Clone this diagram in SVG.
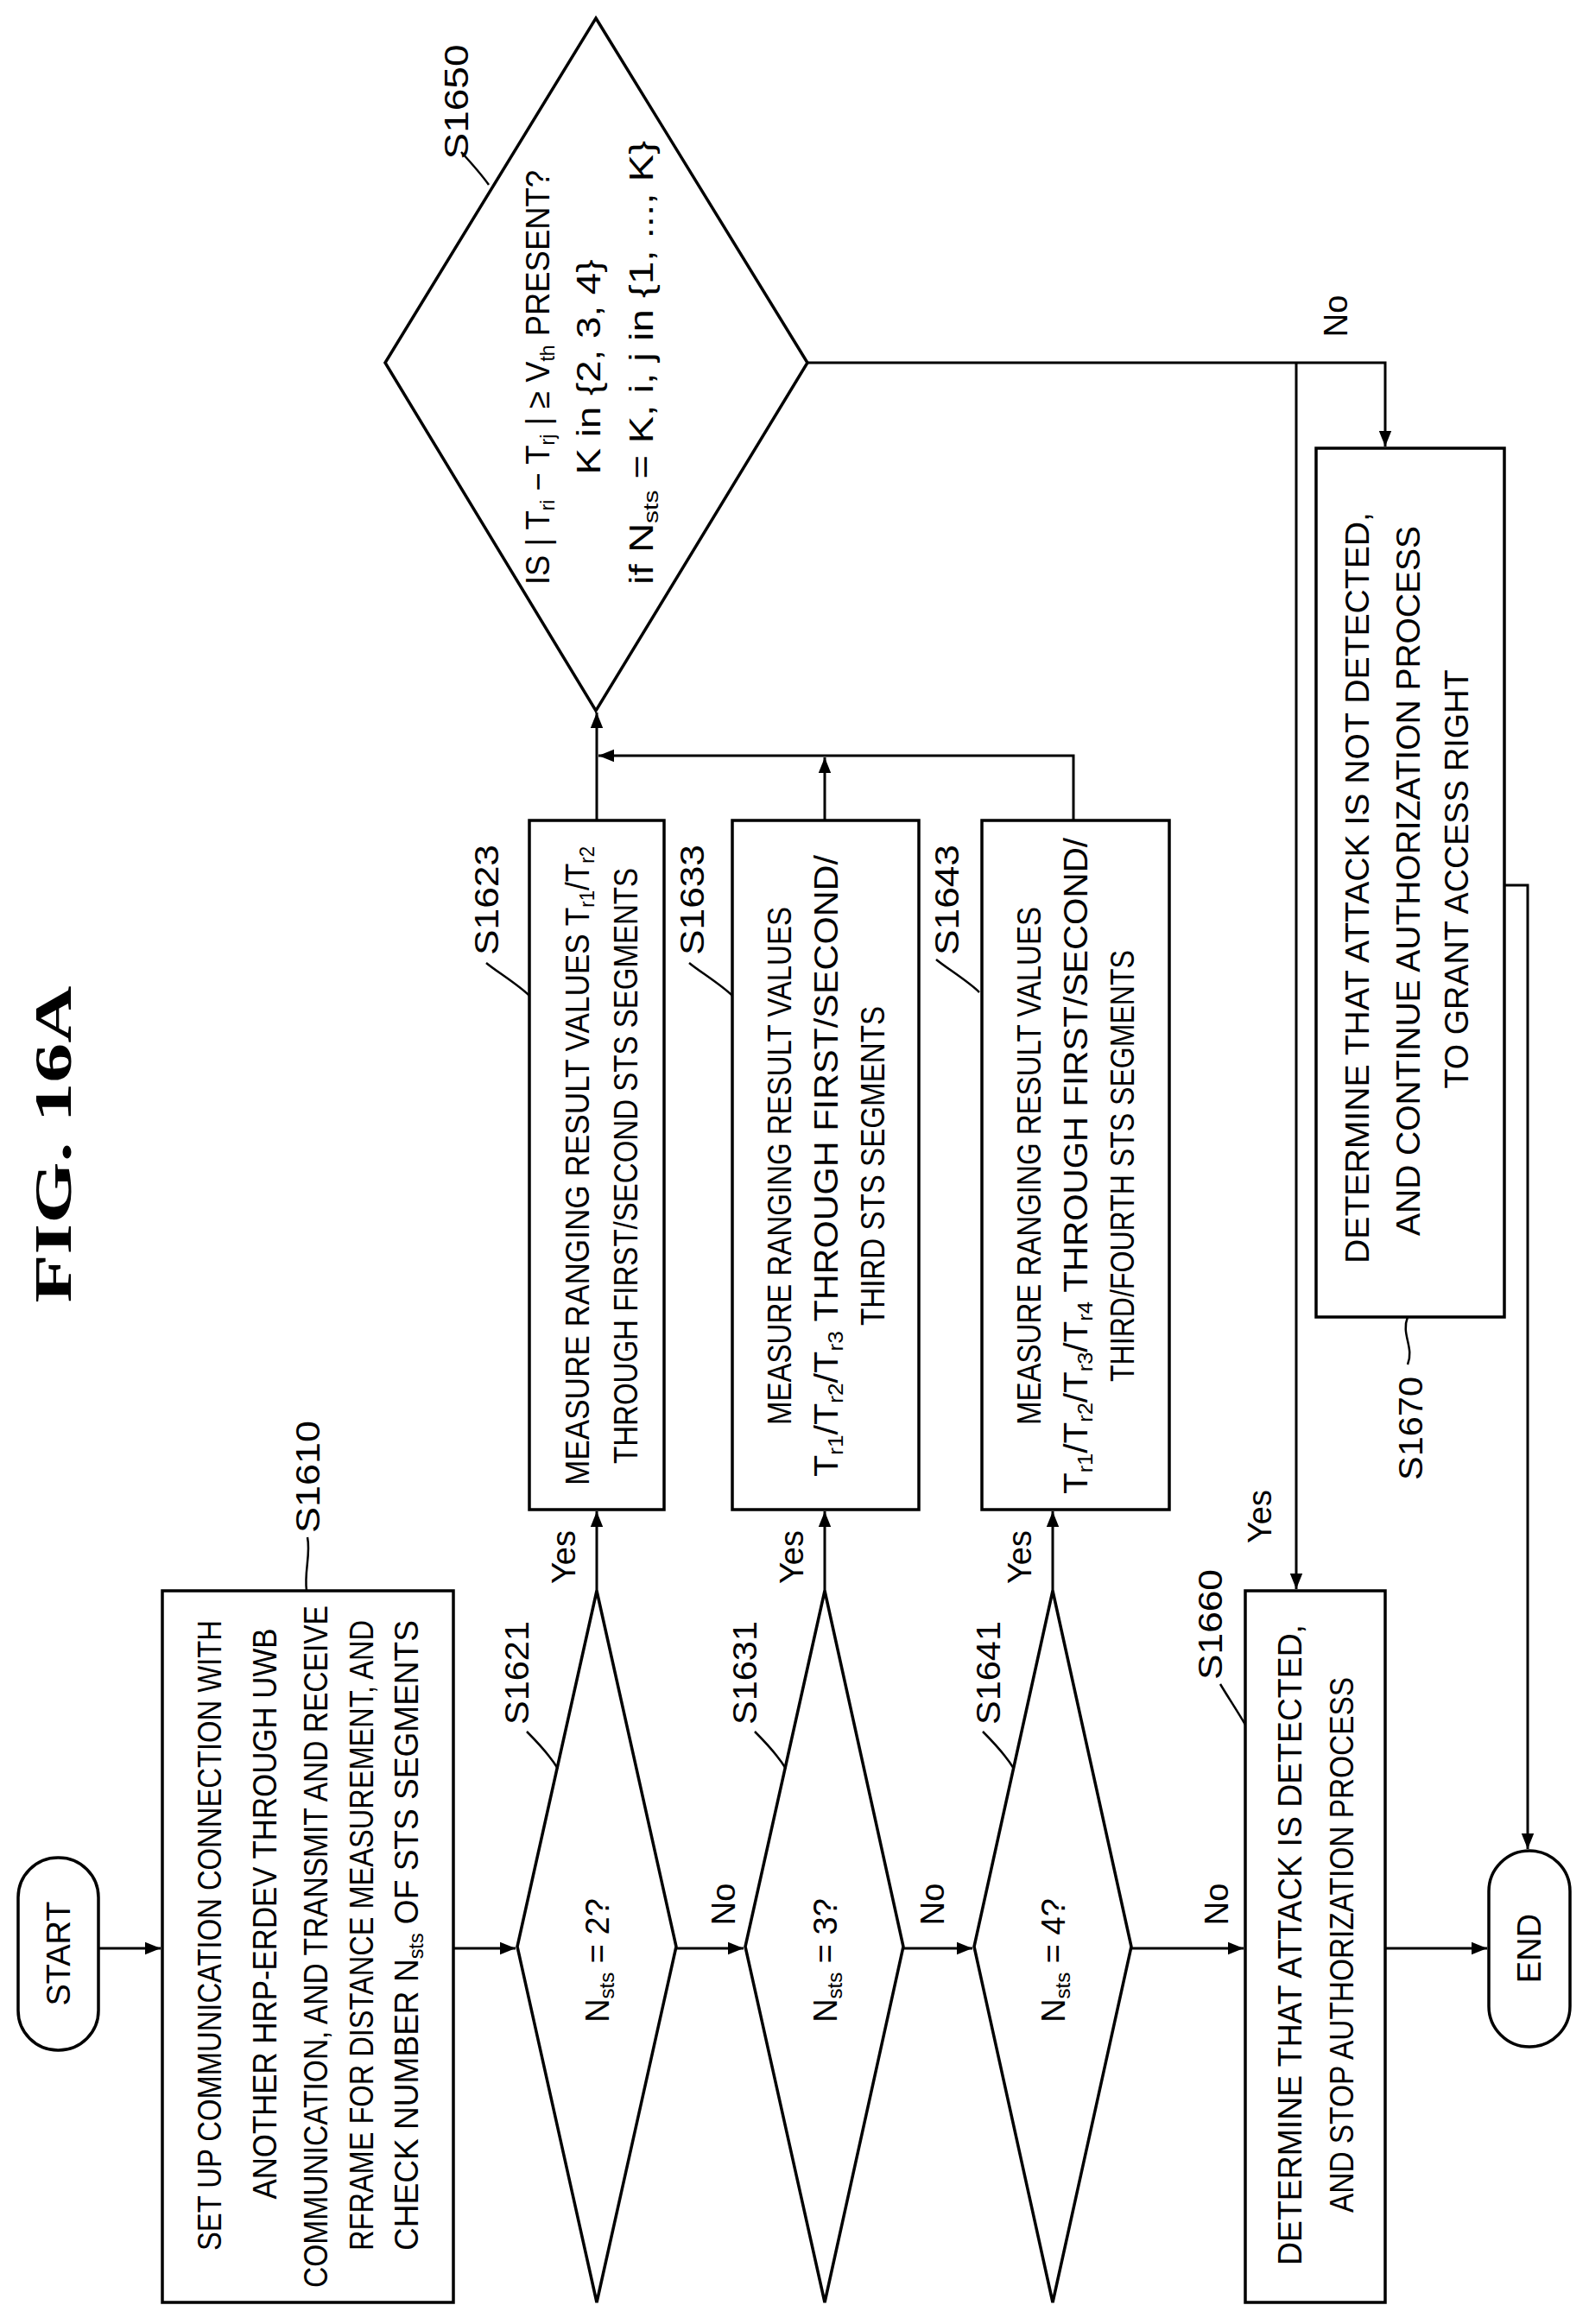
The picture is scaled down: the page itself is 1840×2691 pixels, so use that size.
<svg xmlns="http://www.w3.org/2000/svg" width="1840" height="2691" viewBox="0 0 1840 2691">
<style>
.s{fill:none;stroke:#000;stroke-width:3.5}
.c{fill:none;stroke:#000;stroke-width:3}
.l{fill:none;stroke:#000;stroke-width:2.5}
text{font-family:"Liberation Sans",Arial,sans-serif;font-size:38px;fill:#000}
.sub{font-size:24px}
</style>
<defs>
<marker id="a" viewBox="0 0 10 10" refX="10" refY="5" markerWidth="6" markerHeight="6" orient="auto-start-reverse" markerUnits="strokeWidth"><path d="M0,1 L10,5 L0,9 z" fill="#000"/></marker>
</defs>
<rect width="1840" height="2691" fill="#fff"/>
<text x="82" y="1325" transform="rotate(-90 82 1325)" text-anchor="middle" style="font-family:'Liberation Serif',serif;font-weight:bold;font-size:62px" textLength="367" lengthAdjust="spacingAndGlyphs">FIG.  16A</text>

<g id="connectors">
<path class="c" d="M114,2256 H186" marker-end="url(#a)"/>
<path class="c" d="M525,2256 H597" marker-end="url(#a)"/>
<path class="c" d="M783,2256 H861" marker-end="url(#a)"/>
<path class="c" d="M1046,2256 H1126" marker-end="url(#a)"/>
<path class="c" d="M1310,2256 H1440" marker-end="url(#a)"/>
<path class="c" d="M1604,2256 H1722" marker-end="url(#a)"/>
<path class="c" d="M691,1842 V1750" marker-end="url(#a)"/>
<path class="c" d="M955,1842 V1750" marker-end="url(#a)"/>
<path class="c" d="M1219,1842 V1750" marker-end="url(#a)"/>
<path class="c" d="M691,950 V825" marker-end="url(#a)"/>
<path class="c" d="M955,950 V877" marker-end="url(#a)"/>
<path class="c" d="M1243,950 V875 H693" marker-end="url(#a)"/>
<path class="c" d="M935,420 H1604 V517" marker-end="url(#a)"/>
<path class="c" d="M1501,420 V1840" marker-end="url(#a)"/>
<path class="c" d="M1742,1025 H1769 V2141" marker-end="url(#a)"/>
<text x="851" y="2205" transform="rotate(-90 851 2205)" text-anchor="middle">No</text>
<text x="1093" y="2205" transform="rotate(-90 1093 2205)" text-anchor="middle">No</text>
<text x="1422" y="2205" transform="rotate(-90 1422 2205)" text-anchor="middle">No</text>
<text x="1560" y="366" transform="rotate(-90 1560 366)" text-anchor="middle">No</text>
<text x="666" y="1803" transform="rotate(-90 666 1803)" text-anchor="middle">Yes</text>
<text x="930" y="1803" transform="rotate(-90 930 1803)" text-anchor="middle">Yes</text>
<text x="1194" y="1803" transform="rotate(-90 1194 1803)" text-anchor="middle">Yes</text>
<text x="1472" y="1756" transform="rotate(-90 1472 1756)" text-anchor="middle">Yes</text>
</g>

<g id="start">
<rect class="s" x="21" y="2151" width="93" height="223" rx="46"/>
<text x="81" y="2262" transform="rotate(-90 81 2262)" text-anchor="middle">START</text>
</g>

<g id="s1610">
<rect class="s" x="188" y="1842" width="337" height="824"/>
<text x="256" y="2241" transform="rotate(-90 256 2241)" text-anchor="middle" textLength="730" lengthAdjust="spacingAndGlyphs">SET UP COMMUNICATION CONNECTION WITH</text>
<text x="320" y="2216" transform="rotate(-90 320 2216)" text-anchor="middle" textLength="661" lengthAdjust="spacingAndGlyphs">ANOTHER HRP-ERDEV THROUGH UWB</text>
<text x="379" y="2254" transform="rotate(-90 379 2254)" text-anchor="middle" textLength="790" lengthAdjust="spacingAndGlyphs">COMMUNICATION, AND TRANSMIT AND RECEIVE</text>
<text x="432" y="2241" transform="rotate(-90 432 2241)" text-anchor="middle" textLength="730" lengthAdjust="spacingAndGlyphs">RFRAME FOR DISTANCE MEASUREMENT, AND</text>
<text x="484" y="2241" transform="rotate(-90 484 2241)" text-anchor="middle" textLength="730" lengthAdjust="spacingAndGlyphs">CHECK NUMBER N<tspan class="sub" dy="6">sts</tspan><tspan dy="-6"> OF STS SEGMENTS</tspan></text>
<path class="l" d="M355,1842 C352,1820 360,1800 356,1780"/>
<text x="370" y="1710" transform="rotate(-90 370 1710)" text-anchor="middle" textLength="130" lengthAdjust="spacingAndGlyphs">S1610</text>
</g>

<g id="s1621">
<polygon class="s" points="691,1842 783,2254 691,2666 599,2254"/>
<text x="705" y="2270" transform="rotate(-90 705 2270)" text-anchor="middle">N<tspan class="sub" dy="6">sts</tspan><tspan dy="-6">  = 2?</tspan></text>
<path class="l" d="M646,2048 C635,2030 620,2015 610,2005"/>
<text x="612" y="1937" transform="rotate(-90 612 1937)" text-anchor="middle" textLength="120" lengthAdjust="spacingAndGlyphs">S1621</text>
</g>
<g id="s1631">
<polygon class="s" points="955,1842 1046,2254 955,2666 863,2254"/>
<text x="969" y="2270" transform="rotate(-90 969 2270)" text-anchor="middle">N<tspan class="sub" dy="6">sts</tspan><tspan dy="-6">  = 3?</tspan></text>
<path class="l" d="M910,2048 C899,2030 884,2015 874,2005"/>
<text x="876" y="1937" transform="rotate(-90 876 1937)" text-anchor="middle" textLength="120" lengthAdjust="spacingAndGlyphs">S1631</text>
</g>
<g id="s1641">
<polygon class="s" points="1219,1842 1310,2254 1219,2666 1128,2254"/>
<text x="1233" y="2270" transform="rotate(-90 1233 2270)" text-anchor="middle">N<tspan class="sub" dy="6">sts</tspan><tspan dy="-6">  = 4?</tspan></text>
<path class="l" d="M1174,2048 C1163,2030 1148,2015 1138,2005"/>
<text x="1158" y="1937" transform="rotate(-90 1158 1937)" text-anchor="middle" textLength="120" lengthAdjust="spacingAndGlyphs">S1641</text>
</g>

<g id="s1623">
<rect class="s" x="613" y="950" width="156" height="798"/>
<text x="682" y="1350" transform="rotate(-90 682 1350)" text-anchor="middle" textLength="740" lengthAdjust="spacingAndGlyphs">MEASURE RANGING RESULT VALUES T<tspan class="sub" dy="6">r1</tspan><tspan dy="-6">/T</tspan><tspan class="sub" dy="6">r2</tspan></text>
<text x="738" y="1350" transform="rotate(-90 738 1350)" text-anchor="middle" textLength="690" lengthAdjust="spacingAndGlyphs">THROUGH FIRST/SECOND STS SEGMENTS</text>
<path class="l" d="M613,1153 C600,1140 575,1125 563,1115"/>
<text x="577" y="1042" transform="rotate(-90 577 1042)" text-anchor="middle" textLength="128" lengthAdjust="spacingAndGlyphs">S1623</text>
</g>
<g id="s1633">
<rect class="s" x="848" y="950" width="216" height="798"/>
<text x="916" y="1350" transform="rotate(-90 916 1350)" text-anchor="middle" textLength="600" lengthAdjust="spacingAndGlyphs">MEASURE RANGING RESULT VALUES</text>
<text x="970" y="1350" transform="rotate(-90 970 1350)" text-anchor="middle" textLength="720" lengthAdjust="spacingAndGlyphs">T<tspan class="sub" dy="6">r1</tspan><tspan dy="-6">/T</tspan><tspan class="sub" dy="6">r2</tspan><tspan dy="-6">/T</tspan><tspan class="sub" dy="6">r3</tspan><tspan dy="-6"> THROUGH FIRST/SECOND/</tspan></text>
<text x="1024" y="1350" transform="rotate(-90 1024 1350)" text-anchor="middle" textLength="370" lengthAdjust="spacingAndGlyphs">THIRD STS SEGMENTS</text>
<path class="l" d="M848,1153 C835,1140 810,1125 798,1115"/>
<text x="815" y="1042" transform="rotate(-90 815 1042)" text-anchor="middle" textLength="128" lengthAdjust="spacingAndGlyphs">S1633</text>
</g>
<g id="s1643">
<rect class="s" x="1137" y="950" width="217" height="798"/>
<text x="1205" y="1350" transform="rotate(-90 1205 1350)" text-anchor="middle" textLength="600" lengthAdjust="spacingAndGlyphs">MEASURE RANGING RESULT VALUES</text>
<text x="1259" y="1350" transform="rotate(-90 1259 1350)" text-anchor="middle" textLength="760" lengthAdjust="spacingAndGlyphs">T<tspan class="sub" dy="6">r1</tspan><tspan dy="-6">/T</tspan><tspan class="sub" dy="6">r2</tspan><tspan dy="-6">/T</tspan><tspan class="sub" dy="6">r3</tspan><tspan dy="-6">/T</tspan><tspan class="sub" dy="6">r4</tspan><tspan dy="-6"> THROUGH FIRST/SECOND/</tspan></text>
<text x="1313" y="1350" transform="rotate(-90 1313 1350)" text-anchor="middle" textLength="500" lengthAdjust="spacingAndGlyphs">THIRD/FOURTH STS SEGMENTS</text>
<path class="l" d="M1134,1149 C1121,1136 1096,1121 1084,1111"/>
<text x="1110" y="1042" transform="rotate(-90 1110 1042)" text-anchor="middle" textLength="128" lengthAdjust="spacingAndGlyphs">S1643</text>
</g>

<g id="s1650">
<polygon class="s" points="690,21 935,420 690,823 446,420"/>
<text x="636" y="437" transform="rotate(-90 636 437)" text-anchor="middle" textLength="480" lengthAdjust="spacingAndGlyphs">IS | T<tspan class="sub" dy="6">ri</tspan><tspan dy="-6"> − T</tspan><tspan class="sub" dy="6">rj</tspan><tspan dy="-6"> | ≥ V</tspan><tspan class="sub" dy="6">th</tspan><tspan dy="-6"> PRESENT?</tspan></text>
<text x="695" y="425" transform="rotate(-90 695 425)" text-anchor="middle" textLength="249" lengthAdjust="spacingAndGlyphs">K in {2, 3, 4}</text>
<text x="756" y="420" transform="rotate(-90 756 420)" text-anchor="middle" textLength="514" lengthAdjust="spacingAndGlyphs">if N<tspan class="sub" dy="6">sts</tspan><tspan dy="-6"> = K, i, j in {1, ..., K}</tspan></text>
<path class="l" d="M566,214 C556,200 545,188 534,176"/>
<text x="542" y="118" transform="rotate(-90 542 118)" text-anchor="middle" textLength="133" lengthAdjust="spacingAndGlyphs">S1650</text>
</g>

<g id="s1660">
<rect class="s" x="1442" y="1842" width="162" height="824"/>
<text x="1507" y="2252" transform="rotate(-90 1507 2252)" text-anchor="middle" textLength="742" lengthAdjust="spacingAndGlyphs">DETERMINE THAT ATTACK IS DETECTED,</text>
<text x="1567" y="2252" transform="rotate(-90 1567 2252)" text-anchor="middle" textLength="620" lengthAdjust="spacingAndGlyphs">AND STOP AUTHORIZATION PROCESS</text>
<path class="l" d="M1442,1997 C1432,1980 1420,1962 1413,1950"/>
<text x="1415" y="1881" transform="rotate(-90 1415 1881)" text-anchor="middle" textLength="128" lengthAdjust="spacingAndGlyphs">S1660</text>
</g>

<g id="s1670">
<rect class="s" x="1524" y="519" width="218" height="1006"/>
<text x="1585" y="1028" transform="rotate(-90 1585 1028)" text-anchor="middle" textLength="870" lengthAdjust="spacingAndGlyphs">DETERMINE THAT ATTACK IS NOT DETECTED,</text>
<text x="1644" y="1020" transform="rotate(-90 1644 1020)" text-anchor="middle" textLength="822" lengthAdjust="spacingAndGlyphs">AND CONTINUE AUTHORIZATION PROCESS</text>
<text x="1700" y="1018" transform="rotate(-90 1700 1018)" text-anchor="middle" textLength="485" lengthAdjust="spacingAndGlyphs">TO GRANT ACCESS RIGHT</text>
<path class="l" d="M1630,1525 C1622,1545 1638,1560 1630,1580"/>
<text x="1647" y="1654" transform="rotate(-90 1647 1654)" text-anchor="middle" textLength="120" lengthAdjust="spacingAndGlyphs">S1670</text>
</g>

<g id="end">
<rect class="s" x="1724" y="2143" width="94" height="227" rx="47"/>
<text x="1784" y="2256" transform="rotate(-90 1784 2256)" text-anchor="middle">END</text>
</g>
</svg>
